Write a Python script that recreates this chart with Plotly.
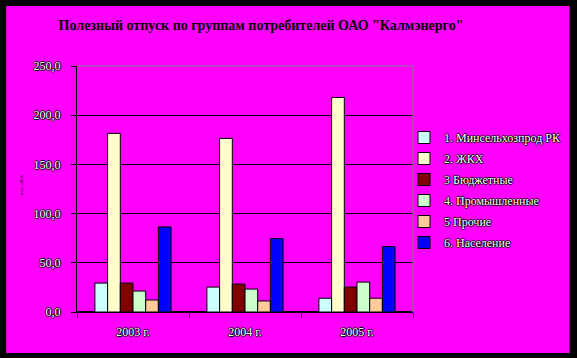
import plotly.graph_objects as go

years = ["2003 г.", "2004 г.", "2005 г."]
series_names = ["1. Минсельхозпрод РК", "2. ЖКХ", "3 Бюджетные", "4. Промышленные", "5 Прочие", "6. Население"]
v_minselhoz = [29.4, 25.3, 14.0]
v_zhkh = [181.5, 176.4, 218.0]
v_budget = [29.4, 28.4, 25.3]
v_prom = [21.3, 23.3, 30.4]
v_proch = [12.2, 11.2, 14.0]
v_nasel = [86.5, 74.6, 66.5]
series_values = [v_minselhoz, v_zhkh, v_budget, v_prom, v_proch, v_nasel]
colors = ["#CCFFFF", "#FFFFCC", "#800000", "#CCFFCC", "#FFCC99", "#0000FF"]
title_text = 'Полезный отпуск по группам потребителей ОАО "Калмэнерго"'
ytitle = "млн. кВтч"

W, H = 577, 358
L, R, T, B = 77, 163, 66, 46
pw, ph = W - L - R, H - T - B

def px(x):
    return (x - L) / pw

def py(y):
    return (H - B - y) / ph

serif = "Liberation Serif, Times New Roman, serif"
outline = "1px 0 0 #000, -1px 0 0 #000, 0 1px 0 #000, 0 -1px 0 #000"

fig = go.Figure()
for i, (name, vals, c) in enumerate(zip(series_names, series_values, colors)):
    fig.add_trace(go.Bar(
        x=years, y=vals, name=name, legendgroup=str(i),
        marker=dict(color=c, line=dict(color="black", width=1)),
    ))

fig.update_layout(
    width=W, height=H,
    margin=dict(l=L, r=R, t=T, b=B),
    paper_bgcolor="black",
    plot_bgcolor="#FF00FF",
    barmode="group", bargap=0.32, bargroupgap=0,
    separators=", ",
    font=dict(family=serif, size=11, color="black"),
    title=dict(text="<b>" + title_text + "</b>", x=261 / W, xanchor="center",
               y=1 - 25 / H, yanchor="middle",
               font=dict(family=serif, size=14, color="black")),
    legend=dict(x=px(404), y=py(123), xanchor="left", yanchor="top",
                bgcolor="rgba(0,0,0,0)", tracegroupgap=2,
                font=dict(family=serif, size=12, color="white", shadow=outline)),
    xaxis=dict(showgrid=False, showline=True, linecolor="black", linewidth=1,
               ticks="outside", tickson="boundaries", ticklen=5, tickcolor="black",
               ticklabelstandoff=9,
               tickfont=dict(family=serif, size=12, color="white", shadow=outline)),
    yaxis=dict(range=[0, 250], dtick=50, tickformat=".1f",
               showgrid=True, gridcolor="black", gridwidth=1,
               zeroline=True, zerolinecolor="black",
               showline=True, linecolor="black", linewidth=1,
               ticks="outside", ticklen=5, tickcolor="black",
               ticklabelstandoff=8,
               tickfont=dict(family=serif, size=12, color="white", shadow=outline)),
    shapes=[
        dict(type="rect", xref="paper", yref="paper", layer="below",
             x0=px(6), x1=px(571), y0=py(353), y1=py(6),
             fillcolor="#FF00FF", line=dict(width=0)),
        dict(type="line", xref="paper", yref="paper", x0=0, x1=1, y0=1, y1=1,
             line=dict(color="#808080", width=1)),
        dict(type="line", xref="paper", yref="paper", x0=1, x1=1, y0=0, y1=1,
             line=dict(color="#808080", width=1)),
    ],
    annotations=[
        dict(text=ytitle, xref="paper", yref="paper", x=px(16), y=py(185),
             showarrow=False, textangle=-90,
             font=dict(family=serif, size=5, color="black")),
    ],
)

fig.write_html("out.html")
